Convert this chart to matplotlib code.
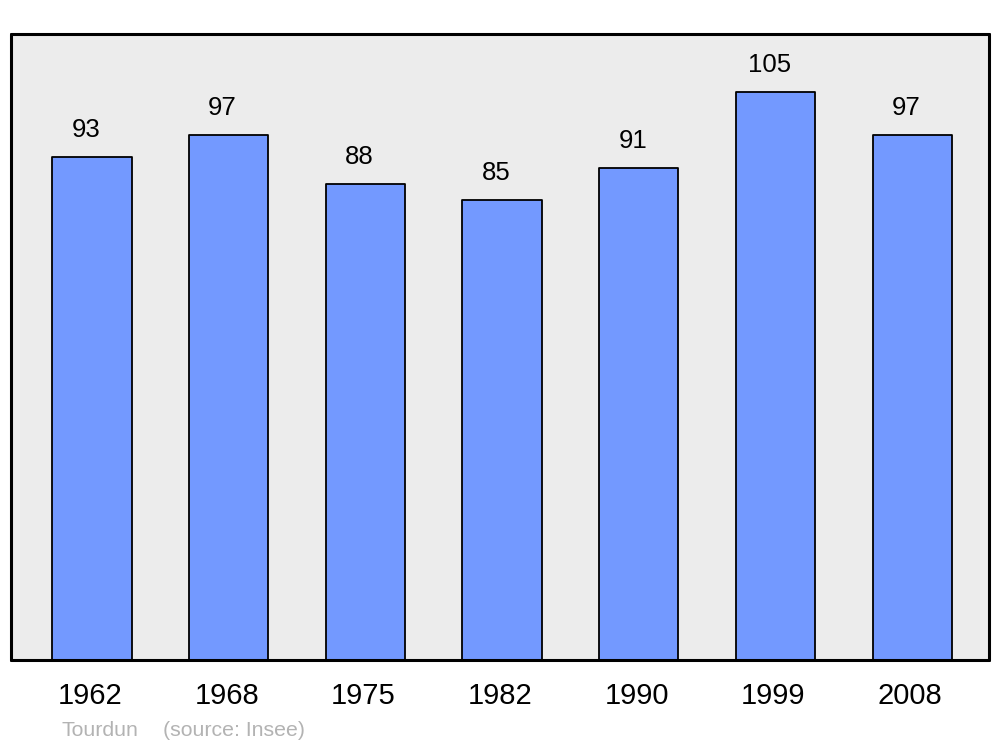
import matplotlib

matplotlib.use("Agg")
import matplotlib.pyplot as plt

plt.rcParams["font.family"] = ["Liberation Sans", "DejaVu Sans"]

years = ["1962", "1968", "1975", "1982", "1990", "1999", "2008"]
population = [93, 97, 88, 85, 91, 105, 97]
commune = "Tourdun"
source = "(source: Insee)"

W, H = 1000, 747
fig = plt.figure(figsize=(W / 100, H / 100), dpi=100)
ax = fig.add_axes([11 / W, 1 - 660 / H, 978 / W, 626 / H])
ax.set_facecolor("#ececec")

x = range(len(years))
bars = ax.bar(x, population, width=0.58, color="#7399ff",
              edgecolor="black", linewidth=1.3, joinstyle="round")
for b, v in zip(bars, population):
    ax.annotate(str(v), (b.get_x() + b.get_width() / 2 - 0.045, v),
                xytext=(0, 19.3), textcoords="offset points",
                ha="center", va="center", fontsize=18.5)

ax.set_xlim(-0.593, 6.562)
ax.set_ylim(0, 115.7)
ax.set_yticks([])
ax.set_xticks([i - 0.015 for i in x])
ax.set_xticklabels(years, fontsize=21)
ax.tick_params(axis="x", length=0, pad=16)
for s in ax.spines.values():
    s.set_linewidth(2.2)
    s.set_capstyle("round")

fig.text(62 / W, 1 - 730 / H, commune, color="#b3b3b3", fontsize=15.3, va="center")
fig.text(163 / W, 1 - 730 / H, source, color="#b3b3b3", fontsize=15.3, va="center")

fig.savefig("out.png", dpi=100)
